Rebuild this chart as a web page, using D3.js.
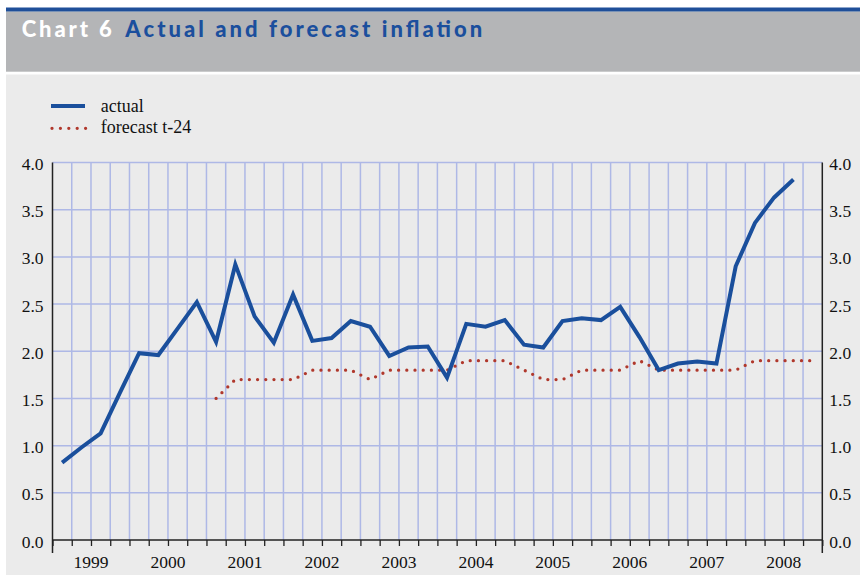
<!DOCTYPE html>
<html><head><meta charset="utf-8">
<script src="https://cdn.jsdelivr.net/npm/d3@7"></script>
<style>html,body{margin:0;padding:0;background:#fff;} svg{display:block;}
.serif{font-family:"Liberation Serif","Times New Roman",serif !important;}
</style>
</head><body>
<svg id="c" width="860" height="575"></svg>
<script>
// ---- data ----
const years = ["1999","2000","2001","2002","2003","2004","2005","2006","2007","2008"];
const quarterNames = ["Q1","Q2","Q3","Q4"];
const quarters = years.flatMap(y => quarterNames.map(q => y + q));
const seriesNames = ["actual", "forecast t-24"];
// actual inflation, 1999Q1 .. 2008Q3
const actualValues = [
  0.82, 0.98, 1.13, 1.56,
  1.98, 1.96, 2.24, 2.52,
  2.10, 2.92, 2.37, 2.09,
  2.60, 2.11, 2.14, 2.32,
  2.26, 1.95, 2.04, 2.05,
  1.72, 2.29, 2.26, 2.33,
  2.07, 2.04, 2.32, 2.35,
  2.33, 2.47, 2.15, 1.80,
  1.87, 1.89, 1.87, 2.90,
  3.36, 3.63, 3.82
];
// forecast made 24 months earlier, 2001Q1 .. 2008Q4
const forecastStart = "2001Q1";
const forecastValues = [
  1.5, 1.7, 1.7, 1.7,
  1.7, 1.8, 1.8, 1.8,
  1.7, 1.8, 1.8, 1.8,
  1.8, 1.9, 1.9, 1.9,
  1.8, 1.7, 1.7, 1.8,
  1.8, 1.8, 1.9, 1.8,
  1.8, 1.8, 1.8, 1.8,
  1.9, 1.9, 1.9, 1.9
];
const yTicks = [0, 0.5, 1, 1.5, 2, 2.5, 3, 3.5, 4];

// ---- styles ----
const BLUE = "#1a4f9c", RED = "#b0382c", GRID = "#aeb8e6";

const svg = d3.select("#c");
svg.append("rect").attr("width", 860).attr("height", 575).attr("fill", "#ffffff");
svg.append("rect").attr("x", 6).attr("y", 7.5).attr("width", 854).attr("height", 4.2).attr("fill", "#1f4f99");
svg.append("rect").attr("x", 6).attr("y", 11.7).attr("width", 854).attr("height", 60).attr("fill", "#b4b5b7");
svg.append("rect").attr("x", 6).attr("y", 74.5).attr("width", 854).attr("height", 501).attr("fill", "#ebebeb");

// title
svg.append("text").attr("x", 21.7).attr("y", 36.5)
  .style("font-family", "Lato, 'DejaVu Sans', sans-serif").style("font-weight", 900).style("font-size", "22px")
  .attr("fill", "#ffffff").attr("textLength", 90).attr("lengthAdjust", "spacing").text("Chart 6");
svg.append("text").attr("x", 125.3).attr("y", 36.5)
  .style("font-family", "Lato, 'DejaVu Sans', sans-serif").style("font-weight", 900).style("font-size", "22px")
  .attr("fill", "#1b4f9d").attr("textLength", 357).attr("lengthAdjust", "spacing").text("Actual and forecast inflation");

// scales
const x = d3.scaleBand().domain(quarters).range([52.5, 822.3]).padding(0);
const xq = d3.scaleLinear().domain([0, quarters.length]).range([52.5, 822.3]);
const y = d3.scaleLinear().domain([0, 4]).range([540, 162.5]);

const g = svg.append("g");

// gridlines
g.append("g").selectAll("line").data(yTicks.filter(d => d > 0)).join("line")
  .attr("x1", 52.5).attr("x2", 822.3).attr("y1", d => y(d)).attr("y2", d => y(d))
  .attr("stroke", GRID).attr("stroke-width", 1.5);
g.append("g").selectAll("line").data(d3.range(1, quarters.length)).join("line")
  .attr("x1", d => xq(d)).attr("x2", d => xq(d)).attr("y1", y(4)).attr("y2", y(0))
  .attr("stroke", GRID).attr("stroke-width", 1.5);

// axes
const leftAxis = g.append("g").attr("transform", `translate(${xq(0)},0)`)
  .call(d3.axisLeft(y).tickValues(yTicks).tickSize(0).tickPadding(9).tickFormat(d3.format(".1f")));
const rightAxis = g.append("g").attr("transform", `translate(${xq(quarters.length)},0)`)
  .call(d3.axisRight(y).tickValues(yTicks).tickSize(0).tickPadding(7).tickFormat(d3.format(".1f")));
[leftAxis, rightAxis].forEach(a => {
  a.attr("font-family", null).attr("font-size", null);
  a.select(".domain").remove();
  a.selectAll("text").classed("serif", true).style("font-size", "17.5px").attr("fill", "#111").attr("dy", "0.4em");
});
const bottomAxis = g.append("g").attr("transform", `translate(0,${y(0)})`)
  .call(d3.axisBottom(xq).tickValues(d3.range(0, quarters.length + 1)).tickSize(6).tickFormat(""));
bottomAxis.select(".domain").remove();
bottomAxis.selectAll(".tick line").attr("stroke", "#222").attr("stroke-width", 1.3);
g.append("line").attr("x1", xq(0)).attr("x2", xq(quarters.length)).attr("y1", y(0)).attr("y2", y(0))
  .attr("stroke", "#222").attr("stroke-width", 1.5);
[0, quarters.length].forEach(k => {
  g.append("line").attr("x1", xq(k)).attr("x2", xq(k)).attr("y1", y(4)).attr("y2", y(0) + 13)
    .attr("stroke", "#222").attr("stroke-width", 1.5);
});
// year labels
g.append("g").selectAll("text").data(years).join("text")
  .attr("x", d => x(d + "Q1") + x.bandwidth() * 2).attr("y", 567.5)
  .attr("text-anchor", "middle").classed("serif", true).style("font-size", "17.5px").attr("fill", "#111")
  .text(d => d);

// series
const actualData = actualValues.map((v, i) => ({ q: quarters[i], v }));
const fStart = quarters.indexOf(forecastStart);
const forecastData = forecastValues.map((v, i) => ({ q: quarters[fStart + i], v }));
const line = d3.line().x(d => x(d.q) + x.bandwidth() / 2).y(d => y(d.v));

g.append("path").datum(forecastData).attr("d", line)
  .attr("fill", "none").attr("stroke", RED).attr("stroke-width", 3.3)
  .attr("stroke-linecap", "round").attr("stroke-dasharray", "0 8.2");
g.append("path").datum(actualData).attr("d", line)
  .attr("fill", "none").attr("stroke", BLUE).attr("stroke-width", 4).attr("stroke-linejoin", "miter");

// legend
const leg = svg.append("g");
leg.append("line").attr("x1", 51).attr("x2", 85).attr("y1", 106).attr("y2", 106)
  .attr("stroke", BLUE).attr("stroke-width", 4);
leg.append("line").attr("x1", 52).attr("x2", 85.7).attr("y1", 128.3).attr("y2", 128.3)
  .attr("stroke", RED).attr("stroke-width", 3.3).attr("stroke-linecap", "round").attr("stroke-dasharray", "0 8.4");
leg.selectAll("text").data(seriesNames).join("text")
  .attr("x", 100.7).attr("y", (d, i) => 112.3 + i * 21)
  .classed("serif", true).style("font-size", "18px").attr("fill", "#111").text(d => d);
</script>
</body></html>
